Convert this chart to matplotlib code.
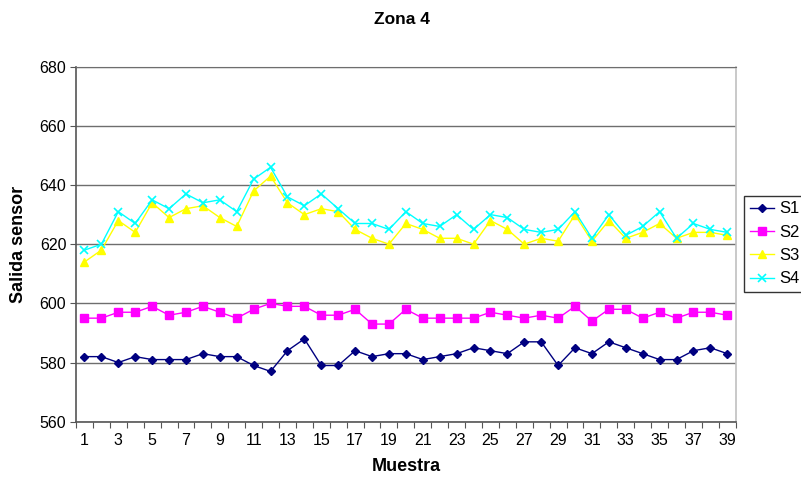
import numpy as np
import matplotlib
matplotlib.use("Agg")
from matplotlib import pyplot as plt

plt.rcParams['font.family'] = ['Liberation Sans', 'DejaVu Sans']

muestra = np.arange(1, 40)
s1 = [582, 582, 580, 582, 581, 581, 581, 583, 582, 582, 579, 577, 584, 588, 579, 579, 584, 582, 583,
      583, 581, 582, 583, 585, 584, 583, 587, 587, 579, 585, 583, 587, 585, 583, 581, 581, 584, 585, 583]
s2 = [595, 595, 597, 597, 599, 596, 597, 599, 597, 595, 598, 600, 599, 599, 596, 596, 598, 593, 593,
      598, 595, 595, 595, 595, 597, 596, 595, 596, 595, 599, 594, 598, 598, 595, 597, 595, 597, 597, 596]
s3 = [614, 618, 628, 624, 634, 629, 632, 633, 629, 626, 638, 643, 634, 630, 632, 631, 625, 622, 620,
      627, 625, 622, 622, 620, 628, 625, 620, 622, 621, 630, 621, 628, 622, 624, 627, 622, 624, 624, 623]
s4 = [618, 620, 631, 627, 635, 632, 637, 634, 635, 631, 642, 646, 636, 633, 637, 632, 627, 627, 625,
      631, 627, 626, 630, 625, 630, 629, 625, 624, 625, 631, 622, 630, 623, 626, 631, 622, 627, 625, 624]

fig = plt.figure(figsize=(8.01, 4.83), dpi=100)
ax = fig.add_axes([0.0949, 0.1269, 0.8236, 0.735])

ax.plot(muestra, s1, color='#000080', marker='D', markersize=4.5, lw=1, label='S1')
ax.plot(muestra, s2, color='#FF00FF', marker='s', markersize=5.5, lw=1, label='S2')
ax.plot(muestra, s3, color='#FFFF00', marker='^', markersize=6, lw=1, label='S3')
ax.plot(muestra, s4, color='#00FFFF', marker='x', markersize=6, mew=1.2, lw=1, label='S4')

ax.set_xlim(0.5, 39.5)
ax.set_ylim(560, 680)
ax.set_yticks(np.arange(560, 681, 20))
ax.yaxis.grid(True, color='#6e6e6e', lw=1)
ax.set_axisbelow(True)

# ticks on category boundaries, labels on every other category
ax.set_xticks(np.arange(0.5, 40, 1))
ax.set_xticklabels([])
ax.set_xticks(np.arange(1, 40, 2), minor=True)
ax.set_xticklabels([str(i) for i in range(1, 40, 2)], minor=True)
ax.tick_params(axis='x', which='major', direction='out', length=4, color='#555555')
ax.tick_params(axis='x', which='minor', length=0, pad=8, labelsize=11.5)
ax.tick_params(axis='y', direction='out', length=4, color='#555555', labelsize=11.5, pad=3)

for side in ['left', 'bottom']:
    ax.spines[side].set_color('#555555')
    ax.spines[side].set_linewidth(1.2)
ax.spines['top'].set_color('#6e6e6e')
ax.spines['right'].set_color('#c0c0c0')
ax.spines['right'].set_linewidth(1.2)

fig.text(0.502, 0.959, 'Zona 4', ha='center', va='center', fontsize=12.5, fontweight='bold')
ax.set_xlabel('Muestra', fontsize=13, fontweight='bold', labelpad=7)
ax.set_ylabel('Salida sensor', fontsize=13, fontweight='bold', labelpad=9)

leg = fig.legend(loc='center left', bbox_to_anchor=(0.929, 0.495), fontsize=12,
                 frameon=True, fancybox=False, edgecolor='black', handlelength=1.45,
                 handletextpad=0.3, labelspacing=0.5, borderpad=0.35, borderaxespad=0)
leg.get_frame().set_linewidth(1)

fig.savefig('out.png', dpi=100)
